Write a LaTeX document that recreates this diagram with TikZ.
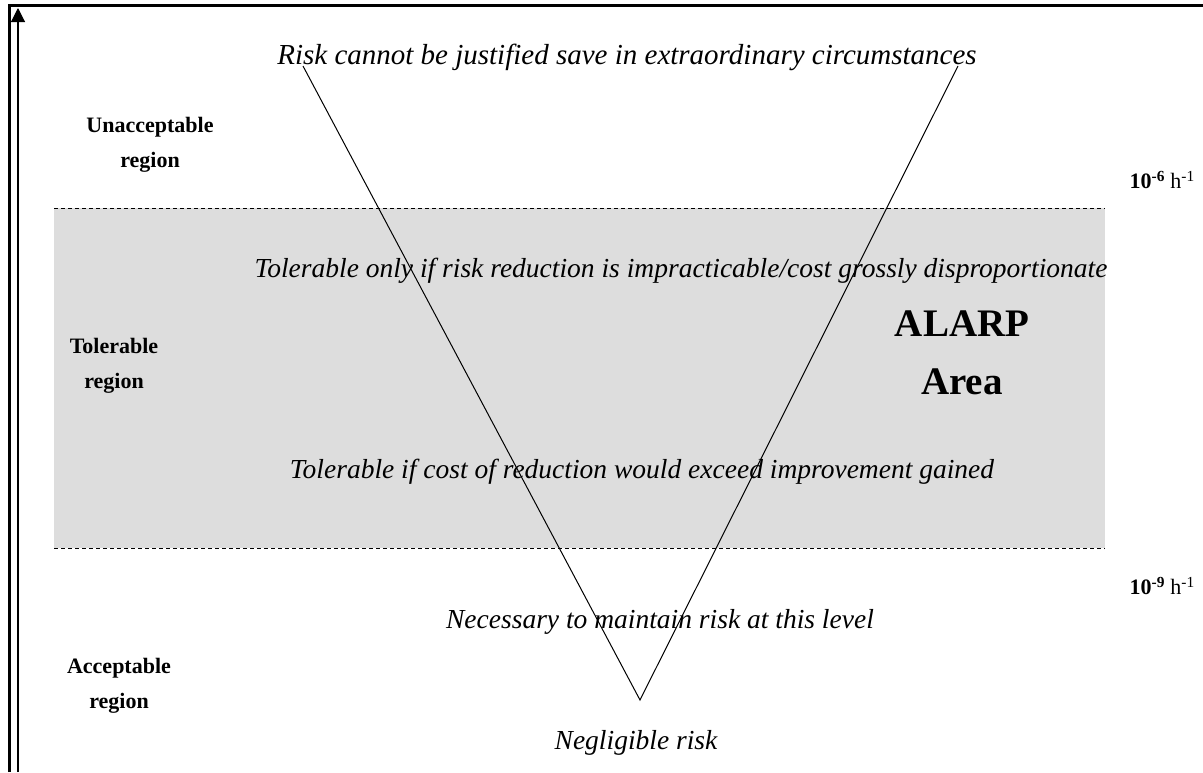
\documentclass[tikz,border=0pt]{standalone}
\usepackage{fontspec}
\setmainfont{Liberation Serif}
\usetikzlibrary{arrows.meta}
\definecolor{alarpgray}{HTML}{DDDDDD}
\begin{document}
\begin{tikzpicture}[x=1pt,y=-1pt,
  note/.style={font=\fontsize{27.5}{30}\selectfont\itshape, inner sep=0pt, anchor=base},
  region/.style={font=\fontsize{22}{35}\selectfont\bfseries, align=center, inner sep=0pt},
  level/.style={font=\fontsize{22}{26}\selectfont, inner sep=0pt, anchor=east},
  limit/.style={dashed, dash pattern=on 4pt off 3pt, line width=1pt}]
\useasboundingbox (0,0) rectangle (1203,772);
% frame (top and left edges)
\draw[line width=3pt] (9,772) -- (9,5) -- (1203,5);
% shaded ALARP band
\fill[alarpgray] (54,208) rectangle (1105,548);
\coordinate (t1) at (54,208); \coordinate (t2) at (1105,208);
\coordinate (b1) at (54,548); \coordinate (b2) at (1105,548);
\draw[limit] (t1) -- (t2);
\draw[limit] (b1) -- (b2);
% risk axis
\coordinate (ax0) at (18,772); \coordinate (ax1) at (18,8);
\draw[line width=1.1pt, -{Triangle[length=14pt,width=14pt]}] (ax0) -- (ax1);
% the V
\coordinate (vl) at (303,66);
\coordinate (apex) at (640,700);
\coordinate (vr) at (958,66);
\draw[line width=1pt] (vl) -- (apex) -- (vr);
% texts
\node[note, font=\fontsize{29}{32}\selectfont\itshape] (n1) at (627,64) {Risk cannot be justified save in extraordinary circumstances};
\node[note] (n2) at (681,277) {Tolerable only if risk reduction is impracticable/cost grossly disproportionate};
\node[note] (n3) at (642,478) {Tolerable if cost of reduction would exceed improvement gained};
\node[note] (n4) at (660,628) {Necessary to maintain risk at this level};
\node[note] (n5) at (636,749) {Negligible risk};
\node[region] (r1) at (150,145) {Unacceptable\\region};
\node[region] (r2) at (114,366) {Tolerable\\region};
\node[region] (r3) at (119,686) {Acceptable\\region};
\node[font=\fontsize{39}{58}\selectfont\bfseries, align=center, inner sep=0pt] (alarp) at (962,353) {ALARP\\Area};
\node[level] (l1) at (1195,180) {\textbf{10\textsuperscript{-6}} h\textsuperscript{-1}};
\node[level] (l2) at (1195,586) {\textbf{10\textsuperscript{-9}} h\textsuperscript{-1}};
\end{tikzpicture}
\end{document}
